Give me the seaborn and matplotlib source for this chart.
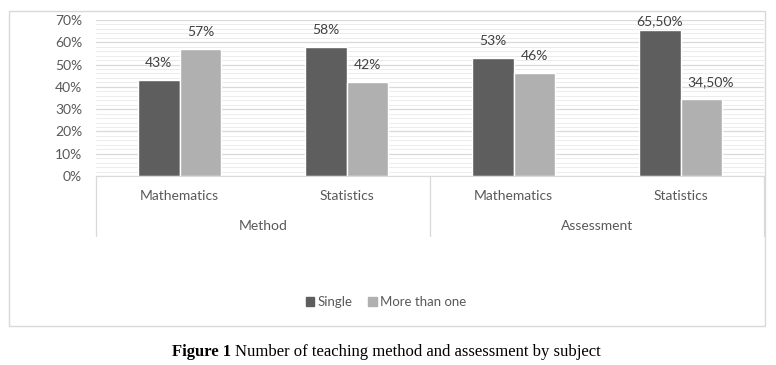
import pandas as pd
import matplotlib.pyplot as plt
import seaborn as sns
from matplotlib.patches import Rectangle
from matplotlib.lines import Line2D

groups = ["Method", "Method", "Assessment", "Assessment"]
subjects = ["Mathematics", "Statistics", "Mathematics", "Statistics"]
single = [43, 58, 53, 65.5]
more_than_one = [57, 42, 46, 34.5]
single_labels = ["43%", "58%", "53%", "65,50%"]
more_labels = ["57%", "42%", "46%", "34,50%"]
series = ["Single", "More than one"]
colors = ["#5e5e5e", "#b0b0b0"]
yticks = [0, 10, 20, 30, 40, 50, 60, 70]

cats = [f"{g}\n{s}" for g, s in zip(groups, subjects)]
df = pd.DataFrame({
    "cat": cats * 2,
    "value": single + more_than_one,
    "series": [series[0]] * 4 + [series[1]] * 4,
})

sns.set_style("white")
plt.rcParams["font.family"] = ["Lato", "DejaVu Sans"]
txt = "#595959"

W, H = 776, 365
fig = plt.figure(figsize=(W / 100, H / 100), dpi=100)
ax = fig.add_axes([96 / W, 189 / H, (764 - 96) / W, (176 - 20) / H])

sns.barplot(data=df, x="cat", y="value", hue="series", order=cats,
            palette=colors, width=0.5, ax=ax, legend=False, saturation=1)

anns = []
for cont, labs in zip(ax.containers, [single_labels, more_labels]):
    anns.append(ax.bar_label(cont, labels=labs, padding=8, fontsize=10, color="#404040"))

# Excel nudges: top label kept inside the plot, last label moved off the dark bar
anns[0][3].xyann = (0, 2)
anns[1][3].xyann = (7, 8)

ax.set_ylim(0, 70)
ax.set_yticks(yticks)
ax.set_yticklabels([f"{v}%" for v in yticks], fontsize=10, color=txt)
ax.set_yticks(range(0, 71, 2), minor=True)
ax.grid(axis="y", which="major", color="#d9d9d9", lw=0.9)
ax.grid(axis="y", which="minor", color="#ececec", lw=0.7)
ax.set_axisbelow(True)
ax.tick_params(axis="y", length=0, pad=10)
ax.tick_params(axis="y", which="minor", length=0)
ax.set_xticks([])
ax.set_xlabel("")
ax.set_ylabel("")
for s in ["top", "right", "left"]:
    ax.spines[s].set_visible(False)
ax.spines["bottom"].set_color("#d9d9d9")
ax.set_xlim(-0.5, 3.5)

# category and group labels below the axis
for i, s in enumerate(subjects):
    ax.text(i, -0.13, s, transform=ax.get_xaxis_transform(), ha="center",
            va="center", fontsize=10, color=txt)
for i, g in enumerate(["Method", "Assessment"]):
    ax.text(0.5 + 2 * i, -0.32, g, transform=ax.get_xaxis_transform(),
            ha="center", va="center", fontsize=10, color=txt)
for xs in [-0.5, 1.5, 3.5]:
    ax.add_line(Line2D([xs, xs], [0, -0.385], transform=ax.get_xaxis_transform(),
                       color="#d9d9d9", lw=0.9, clip_on=False))

# legend
handles = [Rectangle((0, 0), 1, 1, color=c) for c in colors]
fig.legend(handles, series, loc="center", bbox_to_anchor=(386 / W, 1 - 302 / H),
           ncol=2, frameon=False, fontsize=9.5, handlelength=0.65, handleheight=0.7,
           handletextpad=0.25, columnspacing=1.2, labelcolor=txt)

# outer chart border
fig.add_artist(Rectangle((9 / W, 1 - 326 / H), (765 - 9) / W, (326 - 11) / H,
                         transform=fig.transFigure, fill=False,
                         edgecolor="#d9d9d9", lw=1))

# caption
cap_y = 1 - 352 / H
t1 = fig.text(172 / W, cap_y, "Figure 1", fontweight="bold", fontsize=12,
              family="Liberation Serif", va="center", color="black")
fig.canvas.draw()
bb = t1.get_window_extent()
fig.text((bb.x1 + 4) / W, cap_y, "Number of teaching method and assessment by subject",
         fontsize=12, family="Liberation Serif", va="center", color="black")

fig.savefig("out.png", dpi=100)
